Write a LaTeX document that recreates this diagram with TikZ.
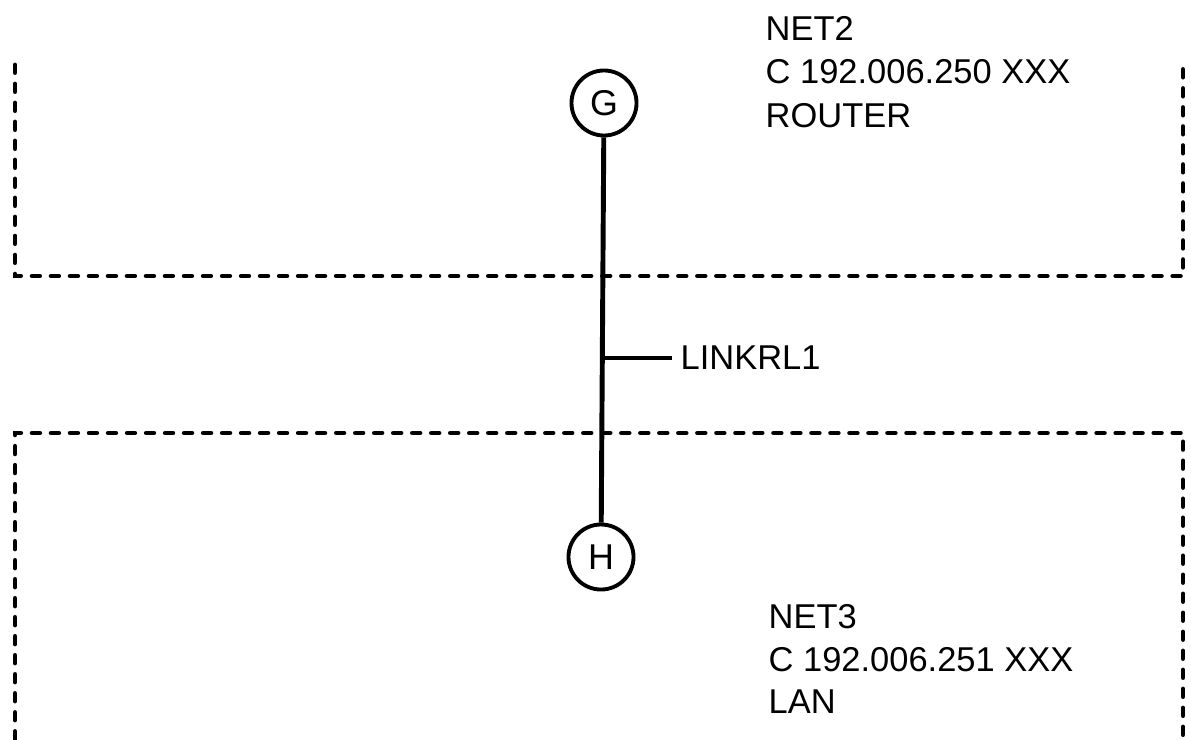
\documentclass[tikz,border=0pt]{standalone}
\usepackage{fontspec}
\setmainfont{Liberation Sans}
\begin{document}
\begin{tikzpicture}[x=0.01cm,y=-0.01cm,
  boxline/.style={line width=1.4pt,dash pattern=on 0.075cm off 0.115cm,line cap=round},
  station/.style={circle,draw,line width=1.1pt,minimum size=0.65cm,inner sep=0pt,font=\fontsize{10.2}{12}\selectfont},
  link/.style={line width=1.4pt},
  tick/.style={line width=1.1pt},
  info/.style={anchor=base west,inner sep=0pt,font=\fontsize{9.8}{12}\selectfont},
  lbl/.style={anchor=west,inner ysep=0pt,inner xsep=0.08cm,font=\fontsize{9.8}{12}\selectfont}]
\useasboundingbox (0,0) rectangle (1191,739);
% network boxes
\draw[boxline] (15,65) -- (15,276) -- (1183,276) -- (1183,65);
\draw[boxline] (15,739) -- (15,433) -- (1183,433) -- (1183,739);
% stations
\node[station] (G) at (604,103) {G};
\node[station] (H) at (601,557) {H};
\draw[link] (G) -- (H);
% link label
\coordinate (t) at (603,358);
\node[lbl] (L) at (672,358) {LINKRL1};
\draw[tick] (t) -- (L.west);
% network texts
\node[info] (n2a) at (765,40) {NET2};
\node[info] (n2b) at (765,83) {C 192.006.250 XXX};
\node[info] (n2c) at (765,127) {ROUTER};
\node[info] (n3a) at (768,628) {NET3};
\node[info] (n3b) at (768,671) {C 192.006.251 XXX};
\node[info] (n3c) at (768,713) {LAN};
\end{tikzpicture}
\end{document}
